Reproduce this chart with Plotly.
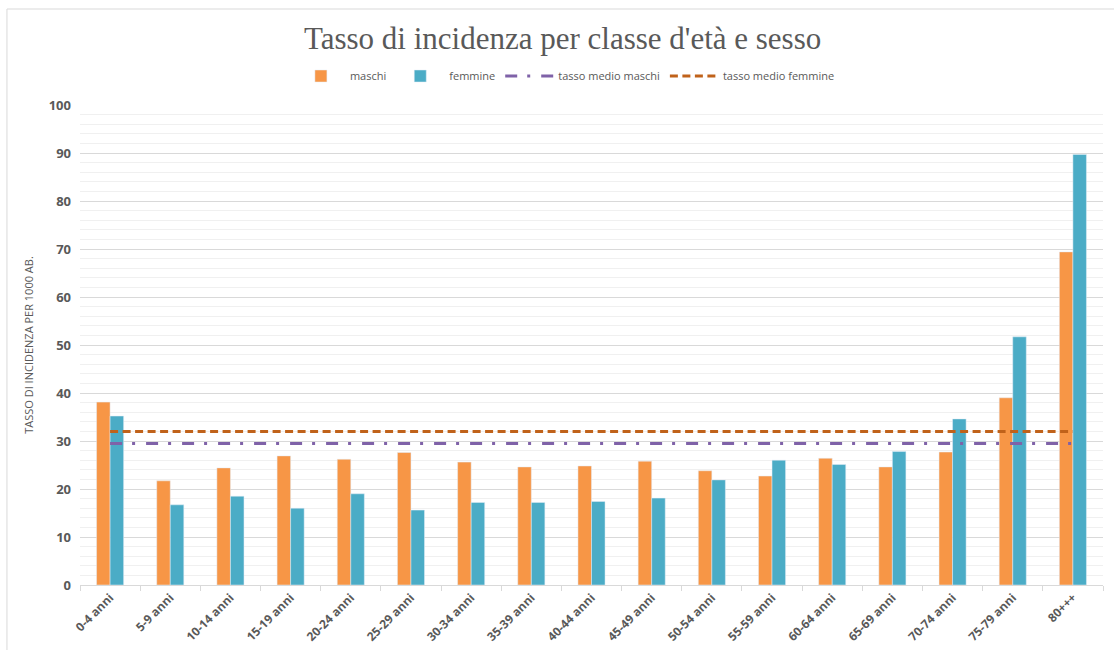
import plotly.graph_objects as go

categorie = ["0-4 anni", "5-9 anni", "10-14 anni", "15-19 anni", "20-24 anni", "25-29 anni",
             "30-34 anni", "35-39 anni", "40-44 anni", "45-49 anni", "50-54 anni", "55-59 anni",
             "60-64 anni", "65-69 anni", "70-74 anni", "75-79 anni", "80+++"]
maschi = [38.1, 21.7, 24.4, 26.9, 26.2, 27.6, 25.6, 24.6, 24.8, 25.8, 23.8, 22.7,
          26.4, 24.6, 27.7, 39.0, 69.4]
femmine = [35.2, 16.7, 18.5, 16.0, 19.0, 15.6, 17.2, 17.2, 17.4, 18.1, 21.9, 26.0,
           25.1, 27.8, 34.6, 51.7, 89.7]
media_maschi = 29.5
media_femmine = 32.0

fig = go.Figure()
fig.add_trace(go.Bar(x=categorie, y=maschi, name="maschi", marker_color="#F79646"))
fig.add_trace(go.Bar(x=categorie, y=femmine, name="femmine", marker_color="#4BACC6"))
fig.add_trace(go.Scatter(x=categorie, y=[media_maschi] * len(categorie), name="tasso medio maschi",
                         mode="lines", line=dict(color="#7F62A8", width=3, dash="12px,10px,3px,11px")))
fig.add_trace(go.Scatter(x=categorie, y=[media_femmine] * len(categorie), name="tasso medio femmine",
                         mode="lines", line=dict(color="#C0621A", width=3, dash="8px,4.5px")))

fig.update_layout(
    width=1114, height=650,
    paper_bgcolor="white", plot_bgcolor="white",
    margin=dict(l=80, r=11, t=105, b=65, autoexpand=False),
    title=dict(text="Tasso di incidenza per classe d'età e sesso", x=0.505, xanchor="center",
               xref="container", yref="container", y=1 - 38 / 650, yanchor="middle",
               font=dict(family="Liberation Serif, DejaVu Serif, serif", size=31, color="#595959")),
    legend=dict(orientation="h", x=0.508, xanchor="center", xref="container",
                yref="container", y=1 - 76 / 650, yanchor="middle",
                font=dict(family="Open Sans, Liberation Sans, sans-serif", size=11, color="#595959"),
                itemwidth=48, traceorder="normal"),
    barmode="group", bargap=0.55, bargroupgap=0.0,
    font=dict(family="Open Sans, Liberation Sans, sans-serif", color="#595959"),
    shapes=[dict(type="rect", xref="paper", yref="paper", x0=-0.0714, x1=1.02, y0=-0.2, y1=1.2,
                 line=dict(color="#D9D9D9", width=1))],
)
fig.update_xaxes(tickangle=-45, automargin=False,
                 tickfont=dict(size=12, color="#595959", family="Open Sans, Liberation Sans, sans-serif", weight="bold"),
                 showline=True, linecolor="#D9D9D9", ticks="outside", tickcolor="#D9D9D9",
                 ticklen=5, tickson="boundaries", showgrid=False)
fig.update_yaxes(range=[0, 100], dtick=10, automargin=False,
                 tickfont=dict(size=13, color="#595959", weight="bold"),
                 showgrid=True, gridcolor="#D9D9D9", gridwidth=1,
                 minor=dict(dtick=2, showgrid=True, gridcolor="#F0F0F0", gridwidth=1),
                 zeroline=False, ticks="", ticklabelstandoff=8,
                 title=dict(text="TASSO DI INCIDENZA PER 1000 AB.", standoff=12,
                            font=dict(size=11, color="#595959")))

fig.write_html("out.html", post_script="document.body.style.margin='0';",
               config={"displayModeBar": False})
